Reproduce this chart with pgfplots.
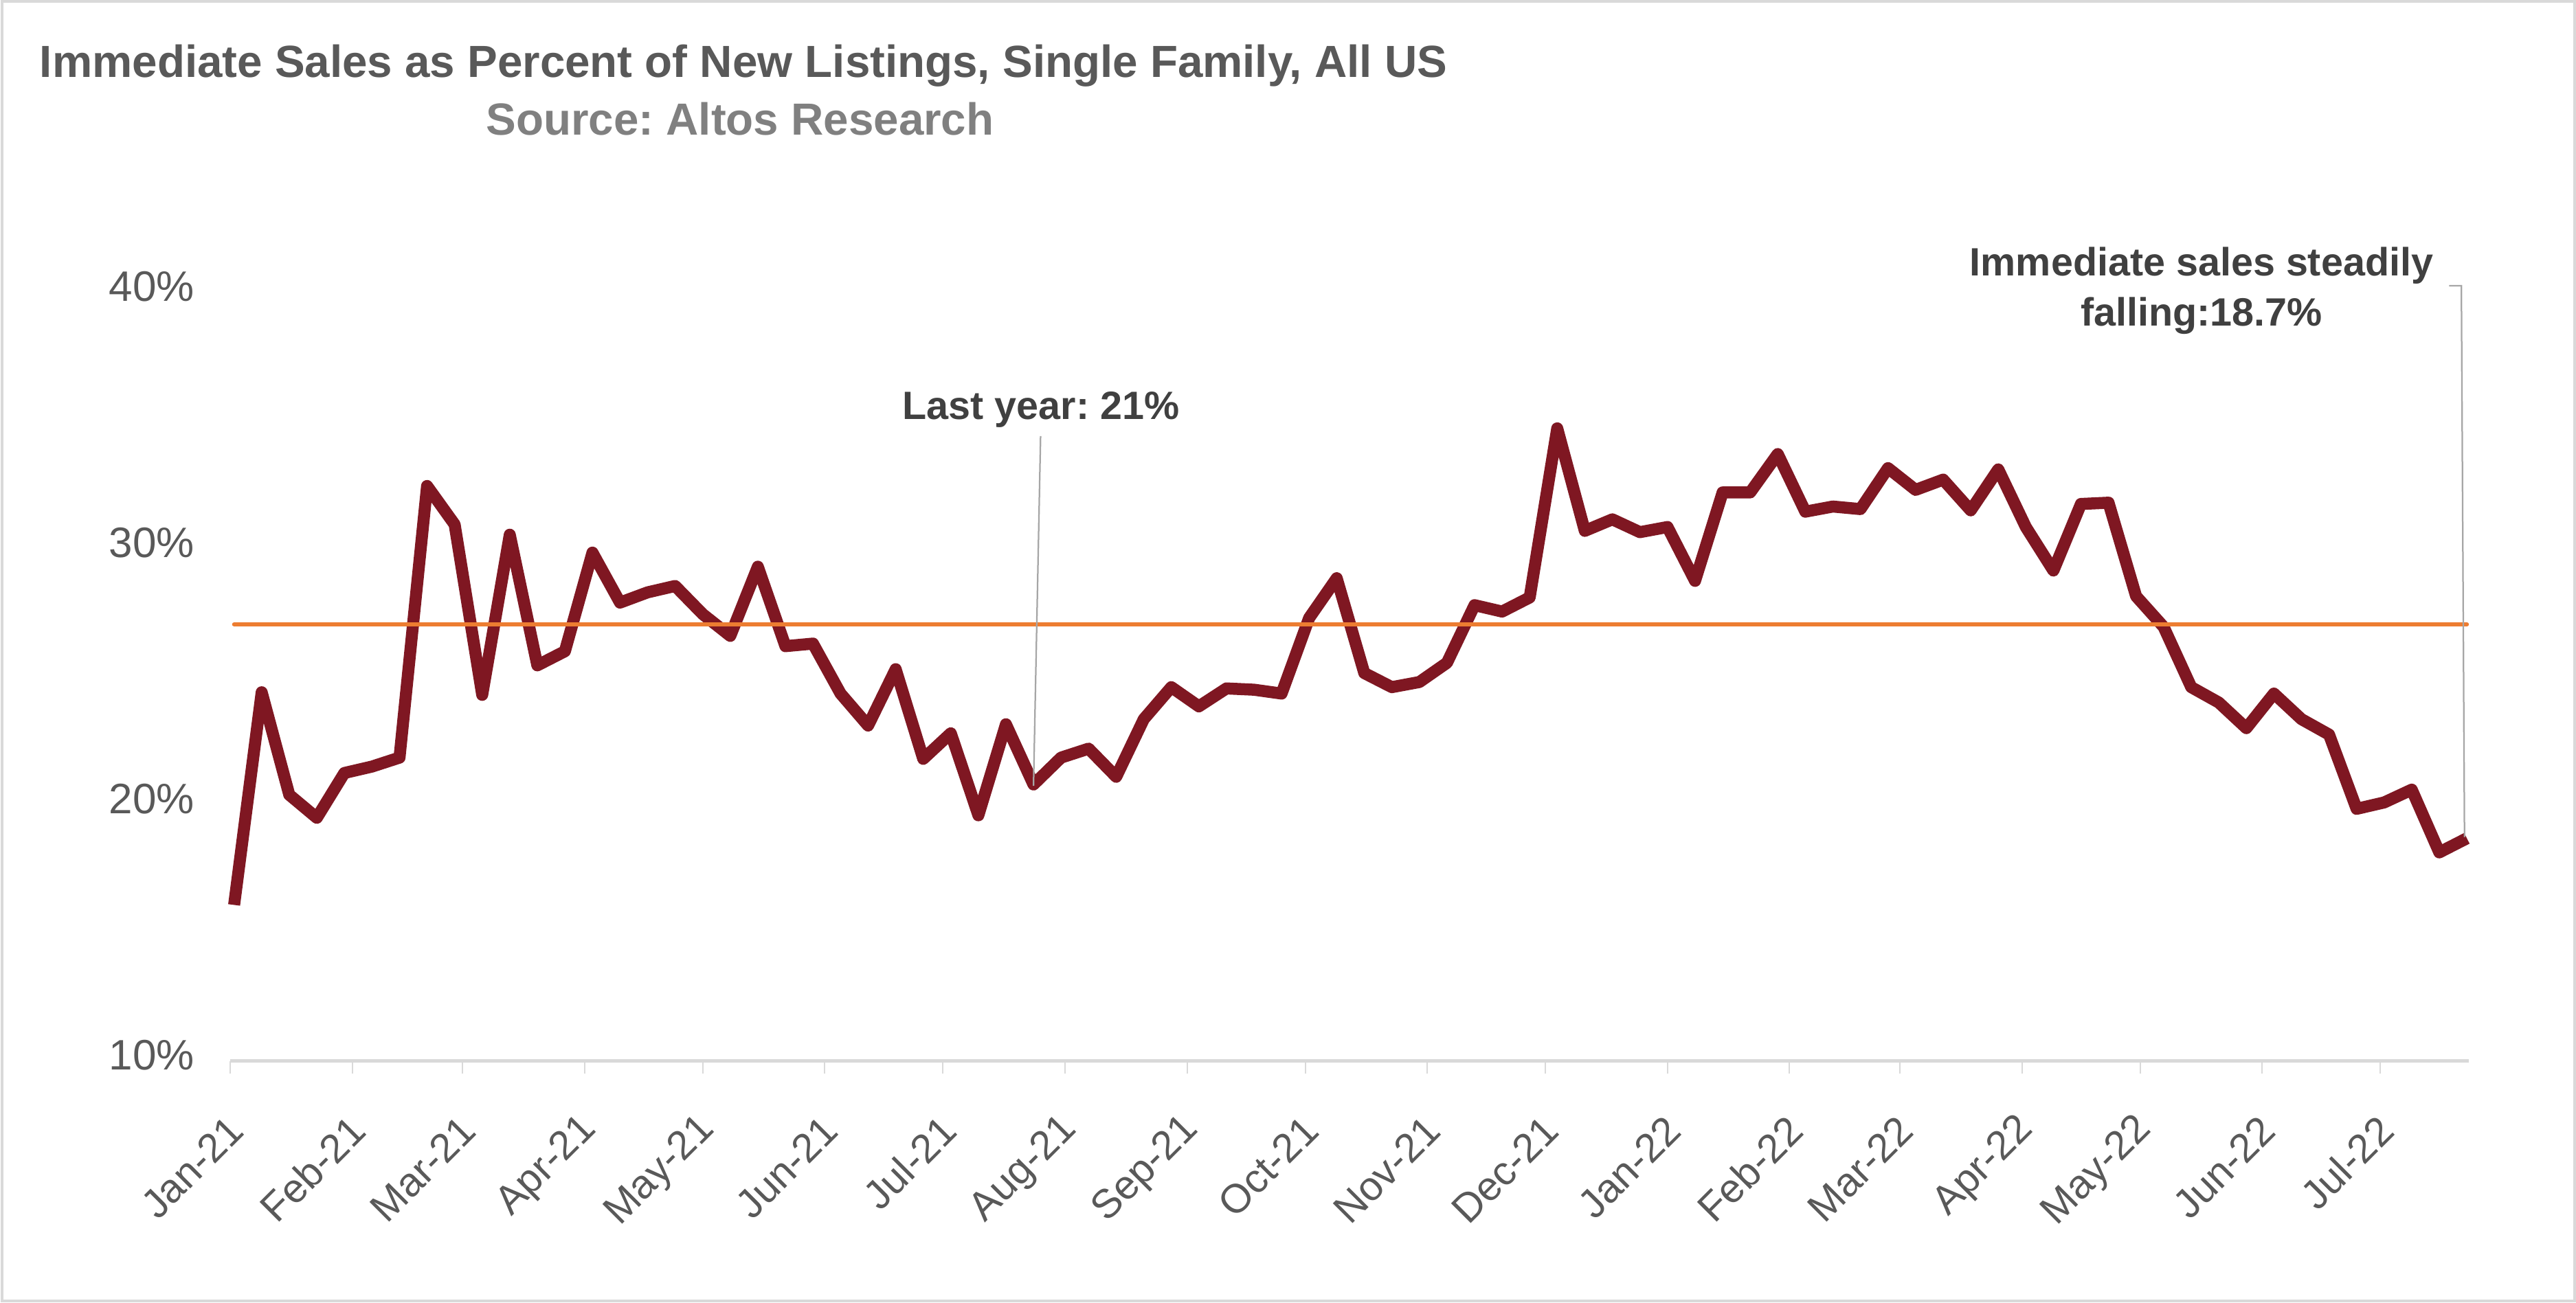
\documentclass[border=0pt]{standalone}
\usepackage{fontspec}
\setmainfont{Liberation Sans}
\usepackage{pgfplots}
\pgfplotsset{compat=1.18}
\frenchspacing
\definecolor{tickgray}{HTML}{595959}
\definecolor{titlegray}{HTML}{595959}
\definecolor{subgray}{HTML}{808080}
\definecolor{annot}{HTML}{404040}
\definecolor{axgray}{HTML}{D9D9D9}
\definecolor{leader}{HTML}{A6A6A6}
\definecolor{darkred}{HTML}{7F1722}
\definecolor{orng}{HTML}{ED7D31}
\begin{document}
\begin{tikzpicture}[x=1pt,y=1pt]
\useasboundingbox (0,0) rectangle (749.8,379.4);
\draw[axgray, line width=0.8pt] (0.5,0.5) rectangle (749.3,378.9);
\begin{axis}[at={(67pt,70.4pt)}, anchor=south west, scale only axis,
  width=651.6pt, height=223.8pt,
  xmin=0, xmax=568.5, ymin=10, ymax=40, clip=false,
  axis x line*=bottom, axis y line*=left,
  x axis line style={axgray, line width=1pt, -},
  y axis line style={draw=none},
  xtick={0,31,59,90,120,151,181,212,243,273,304,334,365,396,424,455,485,516,546},
  xticklabels={Jan-21,Feb-21,Mar-21,Apr-21,May-21,Jun-21,Jul-21,Aug-21,Sep-21,Oct-21,Nov-21,Dec-21,Jan-22,Feb-22,Mar-22,Apr-22,May-22,Jun-22,Jul-22},
  ytick={10,20,30,40}, yticklabels={10\%,20\%,30\%,40\%},
  tick align=outside, major tick length=3.6pt,
  xtick style={axgray, line width=0.4pt},
  ytick style={draw=none},
  xticklabel style={font=\fontsize{11.8}{14}\selectfont, text=tickgray, xshift=1.8pt, yshift=-14.4pt, rotate=45, anchor=east, inner sep=0pt},
  yticklabel style={font=\fontsize{12.4}{14}\selectfont, text=tickgray, anchor=east, inner sep=0pt, xshift=-6.6pt, yshift=1.8pt},
]
\addplot[darkred, line width=3.5pt, line join=round] coordinates {
(1,16.1) (8,24.4) (15,20.4) (22,19.5) (29,21.25) (36,21.5) (43,21.85) (50,32.45) (57,30.95) (64,24.3)
(71,30.55) (78,25.45) (85,26.0) (92,29.85) (99,27.9) (106,28.3) (113,28.55) (120,27.45) (127,26.6) (134,29.3)
(141,26.2) (148,26.3) (155,24.35) (162,23.1) (169,25.3) (176,21.8) (183,22.8) (190,19.6) (197,23.15) (204,20.8)
(211,21.85) (218,22.2) (225,21.1) (232,23.35) (239,24.6) (246,23.85) (253,24.55) (260,24.5) (267,24.35) (274,27.3)
(281,28.85) (288,25.15) (295,24.6) (302,24.8) (309,25.55) (316,27.8) (323,27.55) (330,28.1) (337,34.7) (344,30.7)
(351,31.15) (358,30.65) (365,30.85) (372,28.75) (379,32.2) (386,32.2) (393,33.7) (400,31.45) (407,31.65) (414,31.55)
(421,33.15) (428,32.3) (435,32.7) (442,31.5) (449,33.1) (456,30.85) (463,29.15) (470,31.75) (477,31.8) (484,28.15)
(491,26.95) (498,24.6) (505,24.0) (512,23.0) (519,24.35) (526,23.35) (533,22.75) (540,19.85) (547,20.1) (554,20.6)
(561,18.15) (568,18.7)
};
\addplot[orng, line width=1.2pt, line cap=round] coordinates {(1,27.05) (568,27.05)};
\draw[leader, line width=0.45pt] (axis cs:204,20.75) -- (axis cs:205.8,34.4);
\draw[leader, line width=0.45pt] (axis cs:563.5,40.27) -- (axis cs:566.6,40.27) -- (axis cs:567.4,18.75);
\end{axis}
\node[anchor=base, font=\fontsize{13.1}{15}\selectfont\bfseries, text=titlegray] at (216.4,356.8) {Immediate Sales as Percent of New Listings, Single Family, All US};
\node[anchor=base, font=\fontsize{13.1}{15}\selectfont\bfseries, text=subgray] at (215.4,340) {Source: Altos Research};
\node[anchor=base, font=\fontsize{11.5}{14}\selectfont\bfseries, text=annot] at (303,257.2) {Last year: 21\%};
\node[anchor=base, font=\fontsize{11.5}{14}\selectfont\bfseries, text=annot] at (640.8,299) {Immediate sales steadily};
\node[anchor=base, font=\fontsize{11.5}{14}\selectfont\bfseries, text=annot] at (640.8,284.4) {falling:18.7\%};
\end{tikzpicture}
\end{document}
